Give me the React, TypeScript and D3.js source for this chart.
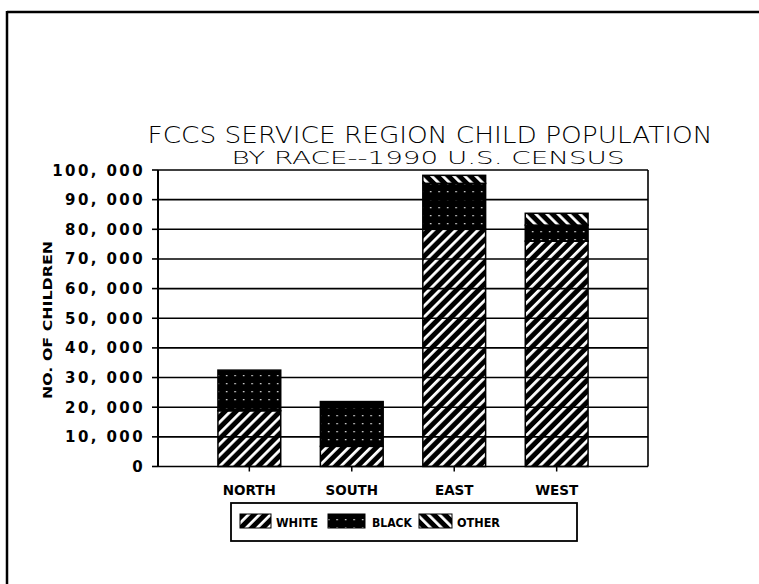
import React from "react";
import * as d3 from "d3";

// FCCS service region child population by race, 1990 U.S. Census
const regions = ["NORTH", "SOUTH", "EAST", "WEST"];
const whiteCounts = [18800, 6800, 80000, 76000];
const blackCounts = [13700, 15100, 15500, 5400];
const otherCounts = [0, 0, 2700, 4000];
const yTicks = [0, 10000, 20000, 30000, 40000, 50000, 60000, 70000, 80000, 90000, 100000];
const seriesNames = ["WHITE", "BLACK", "OTHER"];

const W = 759;
const H = 584;

const plot = { left: 158, right: 648, top: 170, bottom: 466.5 };

const fmt = (v: number) => {
  if (v === 0) return "0";
  const s = d3.format(",")(v);
  return s.replace(",", ", ");
};

export default function App() {
  const x = d3
    .scaleBand<string>()
    .domain(regions)
    .range([plot.left, plot.right])
    .paddingInner(0.387)
    .paddingOuter(0.585);
  const y = d3.scaleLinear().domain([0, 100000]).range([plot.bottom, plot.top]);

  const rows = regions.map((r, i) => ({
    region: r,
    WHITE: whiteCounts[i],
    BLACK: blackCounts[i],
    OTHER: otherCounts[i],
  }));
  const stacked = d3.stack<any>().keys(seriesNames)(rows);
  const fills: Record<string, string> = {
    WHITE: "url(#hatchFwd)",
    BLACK: "url(#dots)",
    OTHER: "url(#hatchBack)",
  };

  const font = "'DejaVu Sans', 'Liberation Sans', sans-serif";

  // legend layout: swatch x, swatch width, label x, label width
  const legendItems = [
    { key: "WHITE", sx: 240, sw: 31, tx: 276, tw: 42 },
    { key: "BLACK", sx: 328, sw: 37, tx: 372, tw: 40 },
    { key: "OTHER", sx: 419, sw: 33, tx: 457, tw: 43 },
  ];

  return (
    <svg
      width={W}
      height={H}
      style={{ position: "absolute", left: 0, top: 0, display: "block", background: "#fff" }}
    >
      <defs>
        <pattern id="hatchFwd" width="7.8" height="7.8" patternUnits="userSpaceOnUse" patternTransform="rotate(45)">
          <rect width="7.8" height="7.8" fill="#000" />
          <rect x="0" y="0" width="2.8" height="7.8" fill="#fff" />
        </pattern>
        <pattern id="hatchBack" width="7.8" height="7.8" patternUnits="userSpaceOnUse" patternTransform="rotate(-45)">
          <rect width="7.8" height="7.8" fill="#000" />
          <rect x="0" y="0" width="2.8" height="7.8" fill="#fff" />
        </pattern>
        <pattern id="dots" width="8.5" height="8" patternUnits="userSpaceOnUse" x="2" y="4">
          <rect width="8.5" height="8" fill="#000" />
          <rect x="3" y="3" width="1.3" height="1.3" fill="#fff" />
        </pattern>
      </defs>

      {/* outer frame */}
      <line x1={7} x2={W} y1={12} y2={12} stroke="#000" strokeWidth={2.5} />
      <line x1={7} x2={7} y1={11} y2={H} stroke="#000" strokeWidth={2.5} />

      {/* title */}
      <text
        x={430}
        y={143}
        textAnchor="middle"
        fontFamily={font}
        fontSize={23}
        fontWeight={300}
        textLength={565}
        lengthAdjust="spacingAndGlyphs"
      >
        FCCS SERVICE REGION CHILD POPULATION
      </text>
      <text
        x={428}
        y={164}
        textAnchor="middle"
        fontFamily={font}
        fontSize={17}
        fontWeight={300}
        textLength={393}
        lengthAdjust="spacingAndGlyphs"
      >
        BY RACE--1990 U.S. CENSUS
      </text>

      {/* bars */}
      {stacked.map((layer) =>
        layer.map((d, i) => {
          const h = y(d[0]) - y(d[1]);
          if (h <= 0) return null;
          return (
            <rect
              key={layer.key + i}
              x={x(regions[i])!}
              y={y(d[1])}
              width={x.bandwidth()}
              height={h}
              fill={fills[layer.key]}
              stroke="#000"
              strokeWidth={1.5}
            />
          );
        })
      )}

      {/* gridlines, drawn across the bars */}
      {yTicks.map((t) => (
        <line
          key={"g" + t}
          x1={plot.left}
          x2={plot.right}
          y1={y(t)}
          y2={y(t)}
          stroke="#000"
          strokeWidth={1.6}
        />
      ))}
      <line x1={plot.left} x2={plot.left} y1={plot.top} y2={plot.bottom} stroke="#000" strokeWidth={2} />
      <line x1={plot.right} x2={plot.right} y1={plot.top} y2={plot.bottom} stroke="#000" strokeWidth={1.6} />

      {/* y ticks and labels */}
      {yTicks.map((t) => (
        <g key={"t" + t}>
          <line x1={152} x2={plot.left} y1={y(t)} y2={y(t)} stroke="#000" strokeWidth={1.6} />
          <text
            x={145}
            y={y(t) + 5.5}
            textAnchor="end"
            fontFamily={font}
            fontSize={15}
            fontWeight="bold"
            letterSpacing={2.4}
          >
            {fmt(t)}
          </text>
        </g>
      ))}

      {/* x ticks and labels */}
      {regions.map((r) => (
        <g key={"x" + r}>
          <line
            x1={x(r)! + x.bandwidth() / 2}
            x2={x(r)! + x.bandwidth() / 2}
            y1={plot.bottom}
            y2={plot.bottom + 5}
            stroke="#000"
            strokeWidth={1.5}
          />
          <text
            x={x(r)! + x.bandwidth() / 2}
            y={495}
            textAnchor="middle"
            fontFamily={font}
            fontSize={13.5}
            fontWeight="bold"
          >
            {r}
          </text>
        </g>
      ))}

      {/* y axis title */}
      <text
        transform={`translate(52, 320) rotate(-90)`}
        textAnchor="middle"
        fontFamily={font}
        fontSize={13}
        fontWeight="bold"
        textLength={158}
        lengthAdjust="spacingAndGlyphs"
      >
        NO. OF CHILDREN
      </text>

      {/* legend */}
      <rect x={231} y={503} width={346} height={38} fill="none" stroke="#000" strokeWidth={1.8} />
      {legendItems.map((it) => (
        <g key={"l" + it.key}>
          <rect x={it.sx} y={514} width={it.sw} height={14} fill={fills[it.key]} stroke="#000" strokeWidth={1} />
          <text
            x={it.tx}
            y={526.5}
            fontFamily={font}
            fontSize={13}
            fontWeight="bold"
            textLength={it.tw}
            lengthAdjust="spacingAndGlyphs"
          >
            {it.key}
          </text>
        </g>
      ))}
    </svg>
  );
}
